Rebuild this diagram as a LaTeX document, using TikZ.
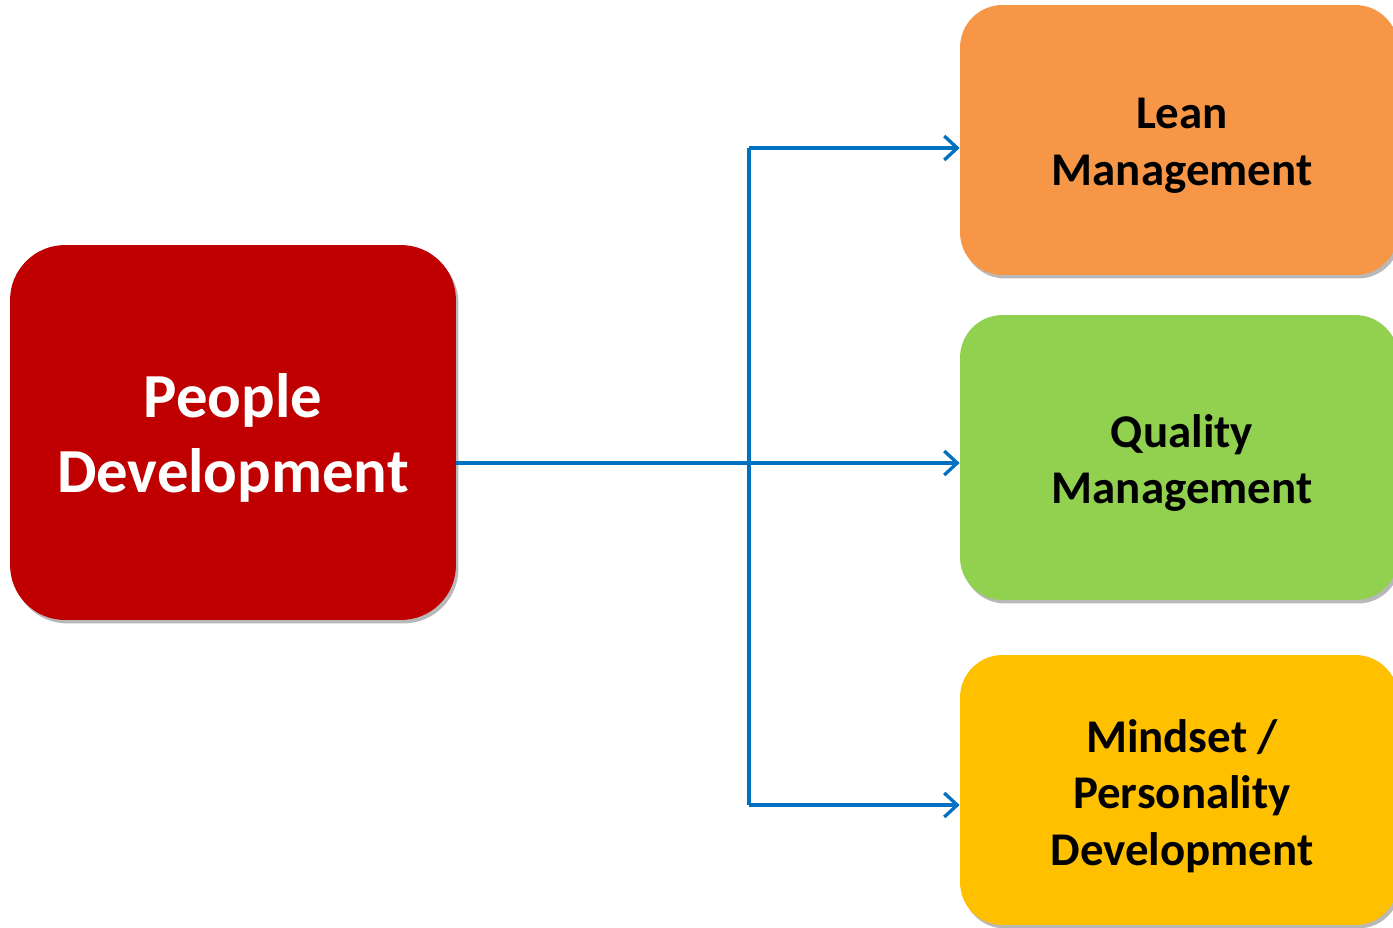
\documentclass[tikz,border=0pt]{standalone}
\usepackage{fontspec}
\setmainfont{Carlito}
\usetikzlibrary{arrows.meta,shadows}
\definecolor{cred}{HTML}{C00000}
\definecolor{corange}{HTML}{F79646}
\definecolor{cgreen}{HTML}{92D050}
\definecolor{cyellow}{HTML}{FFC000}
\definecolor{cblue}{HTML}{0070C0}
\tikzset{
  box/.style={rectangle, rounded corners=0.85cm, inner sep=0pt,
    drop shadow={shadow xshift=0.05cm, shadow yshift=-0.07cm, opacity=0.28, fill=black}},
  rbox/.style={box, minimum width=8.76cm},
  rtext/.style={align=center, inner sep=0pt, text=black,
    font=\bfseries\fontsize{26.7}{32.3}\selectfont},
  arr/.style={draw=cblue, line width=1.9pt,
    -{Straight Barb[length=0.26cm, width=0.48cm, line width=1.9pt]}},
  seg/.style={draw=cblue, line width=1.9pt}
}
\begin{document}
\begin{tikzpicture}[x=0.02cm, y=-0.02cm]
\useasboundingbox (0,0) rectangle (1393,927);
\node[box, fill=cred, minimum width=8.92cm, minimum height=7.5cm, rounded corners=1.1cm] (pd) at (233,432.5) {};
\node[align=center, inner sep=0pt, text=white, font=\bfseries\fontsize{35.7}{43.1}\selectfont] (pdt) at (233,438) {People\\Development};
\node[rbox, fill=corange, minimum height=5.4cm] (lm) at (1179,140) {};
\node[rtext] (lmt) at (1182,146) {Lean\\Management};
\node[rbox, fill=cgreen, minimum height=5.7cm] (qm) at (1179,457.5) {};
\node[rtext] (qmt) at (1182,463) {Quality\\Management};
\node[rbox, fill=cyellow, minimum height=5.4cm] (md) at (1179,790) {};
\node[rtext] (mdt) at (1182,796) {Mindset /\\Personality\\Development};
\coordinate (j) at (749,463);
\coordinate (t) at (749,148);
\coordinate (b) at (749,805);
\draw[arr] (pd.east |- j) -- (qm.west |- j);
\draw[seg] (j) -- (t);
\draw[arr] (t) -- (lm.west |- t);
\draw[seg] (j) -- (b);
\draw[arr] (b) -- (md.west |- b);
\end{tikzpicture}
\end{document}
